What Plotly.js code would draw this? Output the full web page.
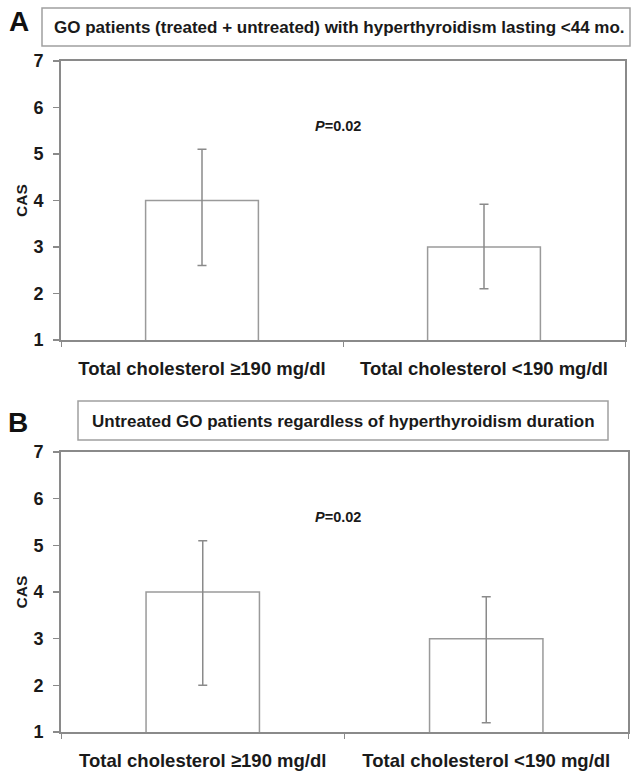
<!DOCTYPE html>
<html>
<head>
<meta charset="utf-8">
<script src="https://cdn.plot.ly/plotly-3.0.1.min.js"></script>
<style>html,body{margin:0;padding:0;background:#fff;}#chart{width:631px;height:774px;}</style>
</head>
<body>
<div id="chart"></div>
<script>
// ---- data ----
var categories = ["Total cholesterol \u2265190 mg/dl", "Total cholesterol <190 mg/dl"];
var meanA  = [4.0, 3.0];
var upperA = [5.1, 3.92];
var lowerA = [2.6, 2.1];
var meanB  = [4.0, 3.0];
var upperB = [5.1, 3.9];
var lowerB = [2.0, 1.2];
var titleA = "GO patients (treated + untreated) with hyperthyroidism lasting <44 mo.";
var titleB = "Untreated GO patients regardless of hyperthyroidism duration";
var pLabel = "<i>P</i>=0.02";
var yTicks = [1, 2, 3, 4, 5, 6, 7];

var FONT = "Arial, 'Liberation Sans', sans-serif";
var GRAY = "#8a8a8a";
var TXT = "#1a1a1a";

function diff(a, b) { return a.map(function (v, i) { return Math.round((v - b[i]) * 100) / 100; }); }

function barTrace(mean, upper, lower, xa, ya) {
  return {
    type: "bar", x: categories, y: mean, xaxis: xa, yaxis: ya, width: 0.4,
    marker: { color: "#ffffff", line: { color: "#9a9a9a", width: 1.5 } },
    error_y: { type: "data", symmetric: false, array: diff(upper, mean), arrayminus: diff(mean, lower),
               color: "#8a8a8a", thickness: 1.5, width: 4.5 },
    showlegend: false, hoverinfo: "skip"
  };
}

function xAxis(domain, anchor) {
  return {
    domain: domain, anchor: anchor, type: "category", range: [-0.5, 1.5],
    showline: true, linecolor: GRAY, linewidth: 2, mirror: true,
    ticks: "outside", tickson: "boundaries", ticklen: 5, tickcolor: GRAY, tickwidth: 1,
    ticklabelstandoff: 11,
    tickfont: { family: FONT, size: 18.5, color: TXT, weight: "bold" },
    showgrid: false, zeroline: false, fixedrange: true
  };
}
function yAxis(domain, anchor) {
  return {
    domain: domain, anchor: anchor, range: [1, 7], tickvals: yTicks,
    showline: true, linecolor: GRAY, linewidth: 2, mirror: true,
    ticks: "outside", ticklen: 6, tickcolor: GRAY, tickwidth: 1.5,
    ticklabelstandoff: 6,
    tickfont: { family: FONT, size: 18, color: TXT, weight: "bold" },
    title: { text: "CAS", standoff: 2, font: { family: FONT, size: 15.5, color: TXT, weight: "bold" } },
    showgrid: false, zeroline: false, fixedrange: true
  };
}

var data = [
  barTrace(meanA, upperA, lowerA, "x", "y"),
  barTrace(meanB, upperB, lowerB, "x2", "y2")
];

var layout = {
  width: 631, height: 774,
  margin: { l: 0, r: 0, t: 0, b: 0 },
  paper_bgcolor: "#ffffff", plot_bgcolor: "#ffffff",
  font: { family: FONT, color: TXT },
  bargap: 0.6,
  xaxis: xAxis([61 / 631, 625 / 631], "y"),
  yaxis: yAxis([1 - 340 / 774, 1 - 61 / 774], "x"),
  xaxis2: xAxis([61 / 631, 628 / 631], "y2"),
  yaxis2: yAxis([1 - 732 / 774, 1 - 452 / 774], "x2"),
  shapes: [
    { type: "rect", xref: "paper", yref: "paper", x0: 42 / 631, x1: 630 / 631, y0: 1 - 46 / 774, y1: 1 - 8 / 774,
      line: { color: "#a0a0a0", width: 1.5 }, fillcolor: "rgba(0,0,0,0)" },
    { type: "rect", xref: "paper", yref: "paper", x0: 78 / 631, x1: 608 / 631, y0: 1 - 440 / 774, y1: 1 - 401 / 774,
      line: { color: "#a0a0a0", width: 1.5 }, fillcolor: "rgba(0,0,0,0)" }
  ],
  annotations: [
    { text: "A", xref: "paper", yref: "paper", x: 19 / 631, y: 1 - 22 / 774, showarrow: false,
      xanchor: "center", yanchor: "middle", font: { family: FONT, size: 28, color: "#111", weight: "bold" } },
    { text: "B", xref: "paper", yref: "paper", x: 18 / 631, y: 1 - 422 / 774, showarrow: false,
      xanchor: "center", yanchor: "middle", font: { family: FONT, size: 28, color: "#111", weight: "bold" } },
    { text: titleA, xref: "paper", yref: "paper", x: 339 / 631, y: 1 - 28 / 774, showarrow: false,
      xanchor: "center", yanchor: "middle", font: { family: FONT, size: 17, color: TXT, weight: "bold" } },
    { text: titleB, xref: "paper", yref: "paper", x: 343 / 631, y: 1 - 421 / 774, showarrow: false,
      xanchor: "center", yanchor: "middle", font: { family: FONT, size: 17, color: TXT, weight: "bold" } },
    { text: pLabel, xref: "paper", yref: "paper", x: 338 / 631, y: 1 - 126 / 774, showarrow: false,
      xanchor: "center", yanchor: "middle", font: { family: FONT, size: 14.5, color: TXT, weight: "bold" } },
    { text: pLabel, xref: "paper", yref: "paper", x: 338 / 631, y: 1 - 517 / 774, showarrow: false,
      xanchor: "center", yanchor: "middle", font: { family: FONT, size: 14.5, color: TXT, weight: "bold" } }
  ]
};

Plotly.newPlot("chart", data, layout, { displayModeBar: false, staticPlot: true });
</script>
</body>
</html>
